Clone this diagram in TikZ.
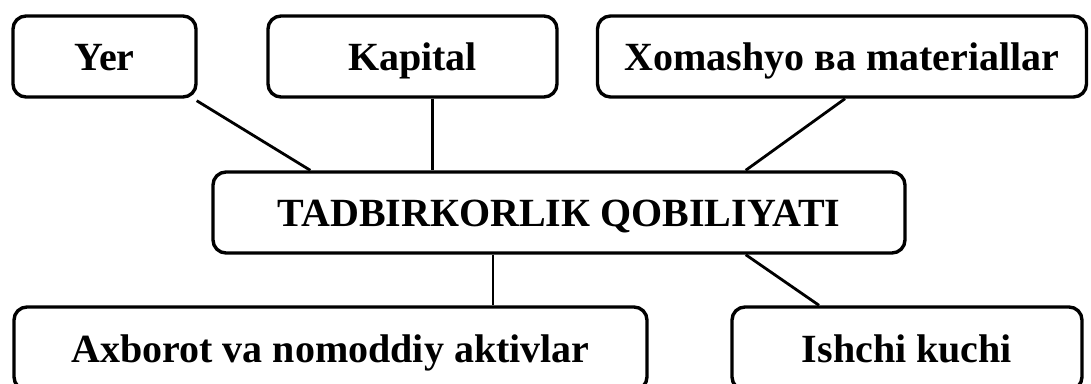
\documentclass[tikz,border=0pt]{standalone}
\usepackage{fontspec}
\setmainfont{Liberation Serif}

\begin{document}
\begin{tikzpicture}[x=1pt,y=-1pt,
    box/.style={draw, line width=3.4pt, rounded corners=13pt, minimum height=81pt,
      inner sep=0pt, text height=27pt, text depth=0pt,
      font=\fontsize{40}{48}\selectfont\bfseries},
    link/.style={line width=2.8pt}]
    \useasboundingbox (0,0) rectangle (1091,383);
    % top row
    \node [box, minimum width=183pt] (yer) at (104.5,56.5) {Yer};
    \node [box, minimum width=289pt] (kapital) at (412.5,56.5) {Kapital};
    \node [box, minimum width=489pt] (xomashyo) at (842,56.5) {Xomashyo ва materiallar};
    % middle
    \node [box, minimum width=692pt] (tq) at (559,212.5) {TADBIRКORLIК QOBILIYATI};
    % bottom row
    \node [box, minimum width=633pt, minimum height=83pt] (axborot) at (330.5,348.5) {Axborot va nomoddiy aktivlar};
    \node [box, minimum width=350pt, minimum height=83pt] (ishchi) at (907,348.5) {Ishchi kuchi};
    % links
    \draw [link] ([xshift=-1pt,yshift=-2pt]yer.south east) -- ([xshift=99pt]tq.north west);
    \draw [link] ([xshift=20pt]kapital.south) -- ([xshift=20pt]kapital.south |- tq.north);
    \draw [link] ([xshift=3pt]xomashyo.south) -- ([xshift=-161pt]tq.north east);
    \draw [link] ([xshift=-66pt]tq.south) -- ([xshift=-66pt]tq.south |- axborot.north);
    \draw [link] ([xshift=-161pt]tq.south east) -- ([xshift=-88pt]ishchi.north);
\end{tikzpicture}
\end{document}
